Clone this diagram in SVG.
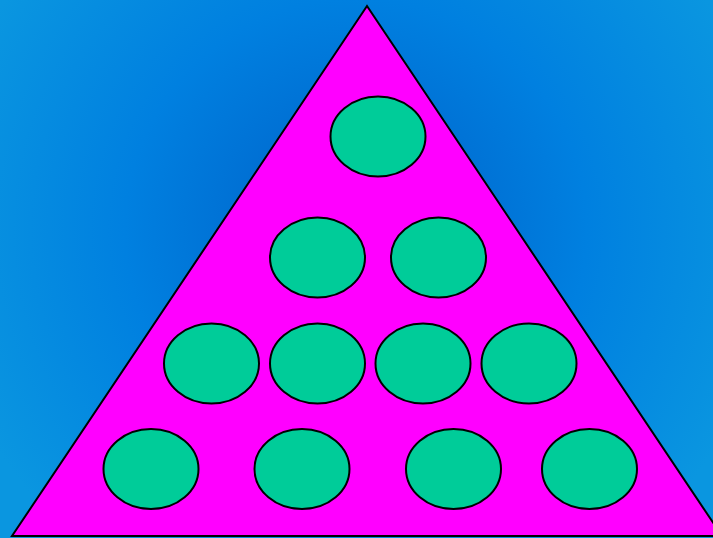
<svg xmlns="http://www.w3.org/2000/svg" width="713" height="538" viewBox="0 0 713 538">
<defs>
<radialGradient id="bg" gradientUnits="userSpaceOnUse" cx="356" cy="230" r="420">
<stop offset="0" stop-color="#0060C8"/>
<stop offset="0.55" stop-color="#0080E0"/>
<stop offset="1" stop-color="#0A96E0"/>
</radialGradient>
<style>
.c{fill:#00CC99;stroke:#000;stroke-width:2}
</style>
</defs>
<rect width="713" height="538" fill="url(#bg)"/>
<g id="triangle"><polygon points="367,6 12,536 722,536" fill="#FF00FF" stroke="#000" stroke-width="2"/></g>
<g id="e1"><ellipse class="c" cx="378" cy="136.5" rx="47.5" ry="40"/></g>
<g id="e2"><ellipse class="c" cx="317.5" cy="257.5" rx="47.5" ry="40"/></g>
<g id="e3"><ellipse class="c" cx="438.5" cy="257.5" rx="47.5" ry="40"/></g>
<g id="e4"><ellipse class="c" cx="211.5" cy="363.5" rx="47.5" ry="40"/></g>
<g id="e5"><ellipse class="c" cx="317.5" cy="363.5" rx="47.5" ry="40"/></g>
<g id="e6"><ellipse class="c" cx="423" cy="363.5" rx="47.5" ry="40"/></g>
<g id="e7"><ellipse class="c" cx="529" cy="363.5" rx="47.5" ry="40"/></g>
<g id="e8"><ellipse class="c" cx="151" cy="469" rx="47.5" ry="40"/></g>
<g id="e9"><ellipse class="c" cx="302" cy="469" rx="47.5" ry="40"/></g>
<g id="e10"><ellipse class="c" cx="453.5" cy="469" rx="47.5" ry="40"/></g>
<g id="e11"><ellipse class="c" cx="589.5" cy="469" rx="47.5" ry="40"/></g>
<g id="connectors"/>
</svg>
